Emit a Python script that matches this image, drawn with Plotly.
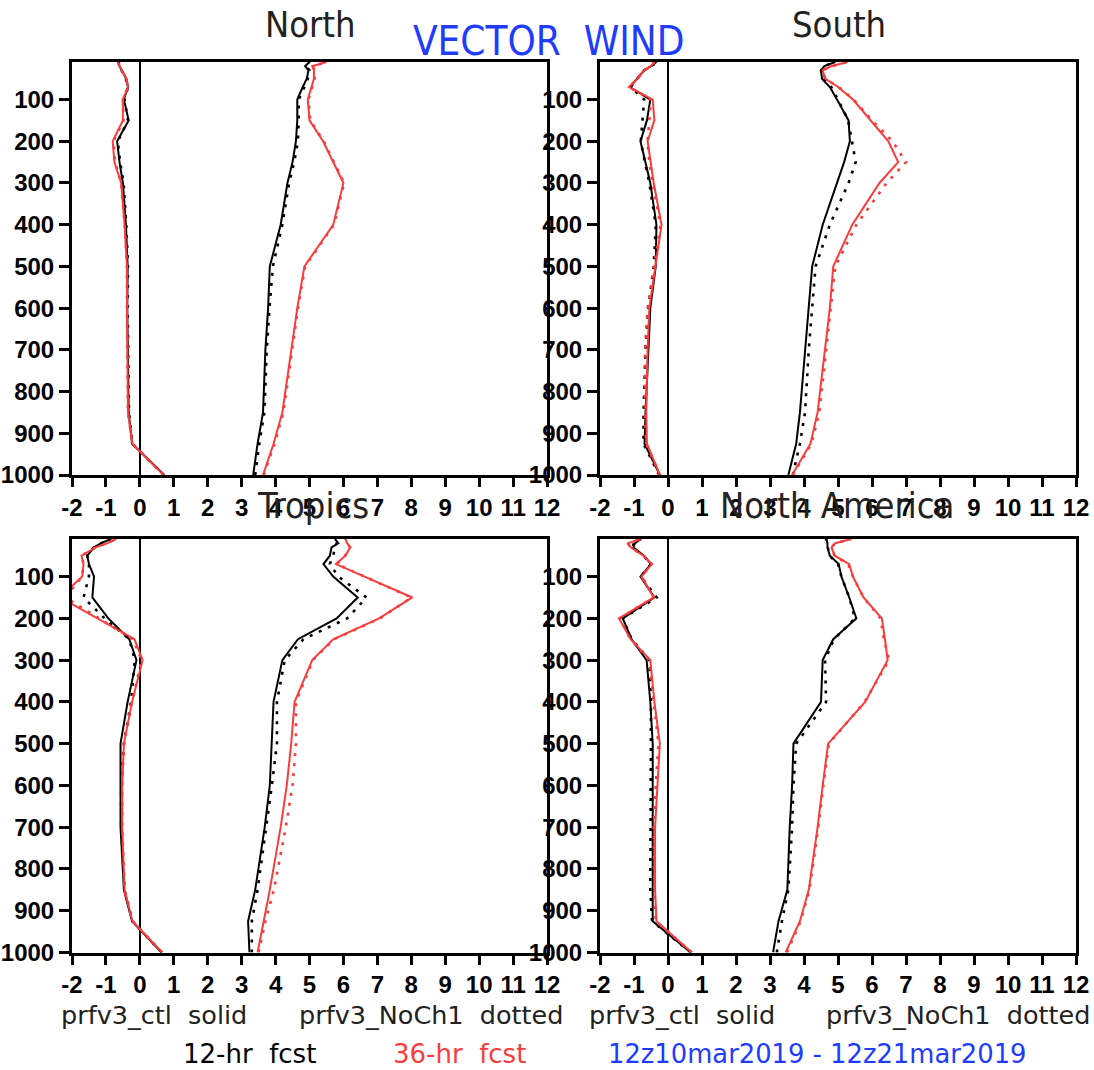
import plotly.graph_objects as go

# ---------------- data ----------------
levels = [1000, 925, 850, 700, 600, 500, 400, 300, 250, 200, 150, 100, 70, 50, 30, 20, 10]
x_ticks = list(range(-2, 13))
y_ticks = list(range(100, 1001, 100))
regions = ["North", "South", "Tropics", "North America"]

# North
north_rmse_ctl12 = [3.34, 3.47, 3.63, 3.70, 3.78, 3.83, 4.15, 4.35, 4.50, 4.60, 4.64, 4.64, 4.80, 4.92, 4.97, 4.87, 5.00]
north_rmse_noch12 = [3.40, 3.52, 3.67, 3.74, 3.82, 3.92, 4.20, 4.40, 4.55, 4.66, 4.68, 4.68, 4.85, 4.95, 5.00, 4.90, 5.00]
north_rmse_ctl36 = [3.63, 3.94, 4.20, 4.46, 4.64, 4.85, 5.70, 6.00, 5.70, 5.40, 5.00, 4.95, 5.06, 5.13, 5.13, 5.08, 5.50]
north_rmse_noch36 = [3.65, 3.97, 4.23, 4.48, 4.66, 4.87, 5.72, 6.02, 5.72, 5.42, 5.02, 4.97, 5.08, 5.15, 5.15, 5.10, 5.50]
north_bias_ctl12 = [0.72, -0.23, -0.33, -0.36, -0.37, -0.36, -0.41, -0.50, -0.60, -0.67, -0.33, -0.47, -0.35, -0.40, -0.55, -0.60, -0.62]
north_bias_noch12 = [0.70, -0.22, -0.32, -0.35, -0.36, -0.35, -0.40, -0.48, -0.58, -0.65, -0.35, -0.45, -0.35, -0.42, -0.55, -0.60, -0.62]
north_bias_ctl36 = [0.70, -0.22, -0.35, -0.38, -0.38, -0.38, -0.45, -0.55, -0.75, -0.80, -0.50, -0.50, -0.35, -0.40, -0.55, -0.60, -0.65]
north_bias_noch36 = [0.70, -0.22, -0.35, -0.38, -0.38, -0.38, -0.45, -0.55, -0.73, -0.78, -0.48, -0.50, -0.35, -0.40, -0.55, -0.60, -0.65]

# South
south_rmse_ctl12 = [3.54, 3.77, 3.88, 4.03, 4.14, 4.24, 4.55, 4.97, 5.18, 5.35, 5.31, 4.97, 4.76, 4.53, 4.50, 4.60, 4.92]
south_rmse_noch12 = [3.67, 3.88, 4.03, 4.14, 4.24, 4.34, 4.76, 5.31, 5.52, 5.40, 5.30, 5.00, 4.80, 4.55, 4.50, 4.60, 4.90]
south_rmse_ctl36 = [3.65, 4.19, 4.40, 4.62, 4.76, 4.86, 5.42, 6.22, 6.77, 6.48, 5.96, 5.44, 5.00, 4.62, 4.55, 4.80, 5.28]
south_rmse_noch36 = [3.67, 4.22, 4.45, 4.66, 4.80, 4.92, 5.54, 6.43, 7.00, 6.60, 6.00, 5.46, 5.02, 4.62, 4.55, 4.80, 5.28]
south_bias_ctl12 = [-0.24, -0.69, -0.66, -0.58, -0.52, -0.36, -0.34, -0.52, -0.66, -0.81, -0.62, -0.52, -1.12, -0.92, -0.70, -0.50, -0.34]
south_bias_noch12 = [-0.26, -0.72, -0.72, -0.66, -0.58, -0.42, -0.36, -0.55, -0.68, -0.80, -0.75, -0.70, -1.10, -0.90, -0.70, -0.50, -0.30]
south_bias_ctl36 = [-0.24, -0.62, -0.64, -0.60, -0.55, -0.38, -0.19, -0.42, -0.50, -0.60, -0.40, -0.45, -1.15, -0.90, -0.70, -0.50, -0.40]
south_bias_noch36 = [-0.24, -0.64, -0.68, -0.68, -0.60, -0.42, -0.22, -0.45, -0.55, -0.60, -0.55, -0.50, -1.15, -0.90, -0.70, -0.50, -0.40]

# Tropics
tropics_rmse_ctl12 = [3.23, 3.19, 3.40, 3.68, 3.83, 3.89, 3.94, 4.20, 4.66, 5.80, 6.42, 5.70, 5.41, 5.60, 5.65, 5.85, 5.75]
tropics_rmse_noch12 = [3.30, 3.30, 3.47, 3.73, 3.89, 4.04, 4.04, 4.27, 4.82, 6.11, 6.68, 5.85, 5.60, 5.70, 5.75, 5.80, 5.75]
tropics_rmse_ctl36 = [3.47, 3.65, 3.83, 4.15, 4.33, 4.46, 4.56, 5.08, 5.70, 7.05, 8.03, 6.62, 5.78, 6.06, 6.20, 6.11, 6.06]
tropics_rmse_noch36 = [3.50, 3.70, 3.95, 4.30, 4.50, 4.60, 4.60, 5.10, 5.72, 7.08, 8.00, 6.60, 5.80, 6.05, 6.20, 6.10, 6.05]
tropics_bias_ctl12 = [0.64, -0.23, -0.47, -0.57, -0.57, -0.57, -0.36, -0.10, -0.31, -0.93, -1.40, -1.35, -1.50, -1.55, -1.35, -1.14, -0.85]
tropics_bias_noch12 = [0.64, -0.22, -0.45, -0.55, -0.55, -0.47, -0.26, -0.15, -0.31, -1.04, -1.66, -1.50, -1.50, -1.55, -1.35, -1.14, -0.85]
tropics_bias_ctl36 = [0.66, -0.22, -0.45, -0.52, -0.52, -0.47, -0.23, 0.08, -0.16, -1.25, -2.35, -1.70, -1.66, -1.72, -1.30, -0.95, -0.70]
tropics_bias_noch36 = [0.66, -0.22, -0.45, -0.52, -0.52, -0.47, -0.23, 0.05, -0.20, -1.20, -2.20, -1.70, -1.66, -1.72, -1.30, -0.95, -0.70]

# North America
namer_rmse_ctl12 = [3.09, 3.25, 3.51, 3.58, 3.65, 3.69, 4.50, 4.55, 4.86, 5.54, 5.33, 5.10, 5.02, 4.76, 4.69, 4.69, 4.66]
namer_rmse_noch12 = [3.20, 3.35, 3.54, 3.65, 3.69, 3.77, 4.65, 4.62, 4.88, 5.50, 5.33, 5.10, 5.00, 4.75, 4.70, 4.65, 4.65]
namer_rmse_ctl36 = [3.46, 3.88, 4.14, 4.40, 4.55, 4.71, 5.80, 6.46, 6.38, 6.29, 5.75, 5.44, 5.33, 4.90, 4.81, 4.92, 5.39]
namer_rmse_noch36 = [3.50, 3.90, 4.16, 4.42, 4.57, 4.73, 5.78, 6.50, 6.35, 6.25, 5.75, 5.44, 5.30, 4.90, 4.81, 4.92, 5.39]
namer_bias_ctl12 = [0.67, -0.45, -0.45, -0.45, -0.45, -0.45, -0.52, -0.63, -1.07, -1.33, -0.40, -0.81, -0.50, -0.71, -1.02, -0.97, -0.79]
namer_bias_noch12 = [0.67, -0.47, -0.52, -0.52, -0.50, -0.50, -0.50, -0.55, -1.07, -1.33, -0.33, -0.80, -0.50, -0.72, -1.05, -1.00, -0.80]
namer_bias_ctl36 = [0.70, -0.34, -0.38, -0.38, -0.31, -0.24, -0.40, -0.52, -1.10, -1.44, -0.42, -0.78, -0.48, -0.72, -1.10, -1.18, -0.80]
namer_bias_noch36 = [0.70, -0.36, -0.40, -0.42, -0.36, -0.28, -0.42, -0.55, -1.10, -1.42, -0.42, -0.78, -0.48, -0.72, -1.10, -1.18, -0.80]

# ---------------- styling ----------------
BLACK = "black"
RED = "rgb(250,60,60)"
BLUE = "rgb(30,60,255)"
DOT = "3px,7px"
TITLE_FONT = "DejaVu Sans Condensed, Liberation Sans Narrow, sans-serif"
TICK_FONT = "Liberation Sans, Arial, sans-serif"
TEXT_FONT = "DejaVu Sans, Verdana, sans-serif"

W, H = 1094, 1070

panel_series = {
    "North": [north_rmse_ctl12, north_rmse_noch12, north_rmse_ctl36, north_rmse_noch36,
              north_bias_ctl12, north_bias_noch12, north_bias_ctl36, north_bias_noch36],
    "South": [south_rmse_ctl12, south_rmse_noch12, south_rmse_ctl36, south_rmse_noch36,
              south_bias_ctl12, south_bias_noch12, south_bias_ctl36, south_bias_noch36],
    "Tropics": [tropics_rmse_ctl12, tropics_rmse_noch12, tropics_rmse_ctl36, tropics_rmse_noch36,
                tropics_bias_ctl12, tropics_bias_noch12, tropics_bias_ctl36, tropics_bias_noch36],
    "North America": [namer_rmse_ctl12, namer_rmse_noch12, namer_rmse_ctl36, namer_rmse_noch36,
                      namer_bias_ctl12, namer_bias_noch12, namer_bias_ctl36, namer_bias_noch36],
}
series_style = [(BLACK, "solid"), (BLACK, DOT), (RED, "solid"), (RED, DOT)] * 2

boxes = {
    "North": (72, 547, 62, 475),
    "South": (600, 1076, 62, 475),
    "Tropics": (72, 547, 539, 952.5),
    "North America": (600, 1076, 539, 952.5),
}
title_pos = {
    "North": (310.5, 25),
    "South": (839, 25),
    "Tropics": (313, 505),
    "North America": (837, 505),
}

fig = go.Figure()
layout = {}
annotations = []

for i, reg in enumerate(regions):
    n = "" if i == 0 else str(i + 1)
    xa, ya = "x" + n, "y" + n
    l, r, t, b = boxes[reg]
    order = [0, 4, 1, 5, 2, 6, 3, 7]
    for k in order:
        color, dash = series_style[k]
        fig.add_trace(go.Scatter(
            x=panel_series[reg][k], y=levels, mode="lines",
            line=dict(color=color, width=2 if dash == "solid" else 2.6, dash=dash),
            xaxis=xa, yaxis=ya, showlegend=False, hoverinfo="skip"))
    layout["xaxis" + n] = dict(
        domain=[l / W, r / W], anchor=ya, range=[-2, 12], automargin=False,
        tickmode="array", tickvals=x_ticks, ticktext=[str(v) for v in x_ticks],
        tickangle=0,
        ticks="outside", ticklen=9, tickwidth=2.5, tickcolor="black",
        showline=True, linewidth=3, linecolor="black", mirror=True,
        showgrid=False, zeroline=True, zerolinecolor="black", zerolinewidth=2,
        tickfont=dict(family=TICK_FONT, size=24, color="black", weight="bold"),
        fixedrange=True)
    layout["yaxis" + n] = dict(
        domain=[1 - b / H, 1 - t / H], anchor=xa, range=[1000, 10], automargin=False,
        tickmode="array", tickvals=y_ticks, ticktext=[str(v) for v in y_ticks],
        ticks="outside", ticklen=10, tickwidth=2.5, tickcolor="black",
        showline=True, linewidth=3, linecolor="black", mirror=True,
        showgrid=False, zeroline=False,
        tickfont=dict(family=TICK_FONT, size=24, color="black", weight="bold"),
        fixedrange=True)
    tx, ty = title_pos[reg]
    annotations.append(dict(
        text=reg, x=tx / W, y=1 - ty / H, xref="paper", yref="paper",
        xanchor="center", yanchor="middle", showarrow=False,
        font=dict(family=TITLE_FONT, size=36, color="#222222")))

annotations.append(dict(
    text="VECTOR  WIND", x=548 / W, y=1 - 41 / H, xref="paper", yref="paper",
    xanchor="center", yanchor="middle", showarrow=False,
    font=dict(family=TITLE_FONT, size=40, color=BLUE)))

bottom_texts = [
    ("prfv3_ctl  solid", 153.5, 1015, "#222222", 25.5),
    ("prfv3_NoCh1  dotted", 431, 1015, "#222222", 25.5),
    ("prfv3_ctl  solid", 682, 1015, "#222222", 25.5),
    ("prfv3_NoCh1  dotted", 958, 1015, "#222222", 25.5),
    ("12-hr  fcst", 249.5, 1054, "black", 26),
    ("36-hr  fcst", 459.5, 1054, RED, 26),
    ("12z10mar2019 - 12z21mar2019", 816.5, 1054, BLUE, 25.8),
]
for txt, x, y, c, s in bottom_texts:
    annotations.append(dict(
        text=txt, x=x / W, y=1 - y / H, xref="paper", yref="paper",
        xanchor="center", yanchor="middle", showarrow=False,
        font=dict(family=TEXT_FONT, size=s, color=c)))

fig.update_layout(
    template="none",
    width=W, height=H, margin=dict(l=0, r=0, t=0, b=0, autoexpand=False),
    paper_bgcolor="white", plot_bgcolor="white",
    annotations=annotations, **layout)

fig.write_html("out.html", config={"displayModeBar": False})
